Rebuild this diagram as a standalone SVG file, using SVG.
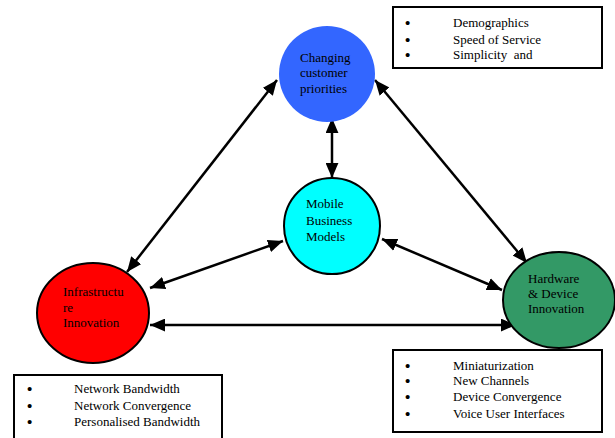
<svg xmlns="http://www.w3.org/2000/svg" width="615" height="438" viewBox="0 0 615 438">
<defs>
<marker id="ah" viewBox="0 0 14 12" refX="14" refY="6" markerWidth="15" markerHeight="13" markerUnits="userSpaceOnUse" orient="auto-start-reverse">
<path d="M0,0 L14,6 L0,12 Z" fill="#000"/>
</marker>
</defs>
<style>
text{font-family:"Liberation Serif","Times New Roman","DejaVu Serif",serif;font-size:13px;fill:#000}
.b{font-size:15px;font-weight:bold}
.box{fill:#fff;stroke:#000;stroke-width:2}
.node{stroke:#000;stroke-width:2}
.conn line{stroke:#000;stroke-width:2.5;marker-start:url(#ah);marker-end:url(#ah)}
</style>
<rect width="615" height="438" fill="#fff"/>
<g class="conn" id="connectors">
<line x1="127" y1="272" x2="277" y2="80"/>
<line x1="375" y1="80" x2="527" y2="263"/>
<line x1="332" y1="118" x2="332" y2="178"/>
<line x1="150" y1="288" x2="283" y2="241"/>
<line x1="382" y1="239" x2="502" y2="290"/>
<line x1="150" y1="325" x2="516" y2="325"/>
</g>
<g id="customer">
<circle cx="327" cy="74" r="48" fill="#3366FF"/>
<text x="300" y="62">Changing</text>
<text x="300" y="77">customer</text>
<text x="300" y="93">priorities</text>
</g>
<g id="mobile">
<circle class="node" cx="332" cy="226" r="48" fill="#00FFFF"/>
<text x="306" y="208">Mobile</text>
<text x="306" y="225">Business</text>
<text x="306" y="241">Models</text>
</g>
<g id="infra">
<ellipse class="node" cx="93" cy="313" rx="56" ry="50" fill="#FF0000"/>
<text x="63" y="296">Infrastructu</text>
<text x="63" y="312">re</text>
<text x="63" y="327">Innovation</text>
</g>
<g id="hardware">
<ellipse class="node" cx="559" cy="300" rx="56" ry="48" fill="#339966"/>
<text x="528" y="283">Hardware</text>
<text x="528" y="298">&amp; Device</text>
<text x="528" y="313">Innovation</text>
</g>
<g id="box-customer">
<rect class="box" x="393" y="7" width="209" height="61"/>
<text class="b" x="405" y="28">•</text><text x="453" y="27">Demographics</text>
<text class="b" x="405" y="45">•</text><text x="453" y="44">Speed of Service</text>
<text class="b" x="405" y="60">•</text><text x="453" y="59" xml:space="preserve">Simplicity  and</text>
</g>
<g id="box-infra">
<rect class="box" x="14" y="375" width="208" height="70"/>
<text class="b" x="27" y="394">•</text><text x="74" y="393">Network Bandwidth</text>
<text class="b" x="27" y="411">•</text><text x="74" y="410">Network Convergence</text>
<text class="b" x="27" y="427">•</text><text x="74" y="426">Personalised Bandwidth</text>
</g>
<g id="box-hardware">
<rect class="box" x="393" y="350" width="209" height="82"/>
<text class="b" x="405" y="371">•</text><text x="453" y="370">Miniaturization</text>
<text class="b" x="405" y="386">•</text><text x="453" y="385">New Channels</text>
<text class="b" x="405" y="402">•</text><text x="453" y="401">Device Convergence</text>
<text class="b" x="405" y="419">•</text><text x="453" y="418">Voice User Interfaces</text>
</g>
</svg>
